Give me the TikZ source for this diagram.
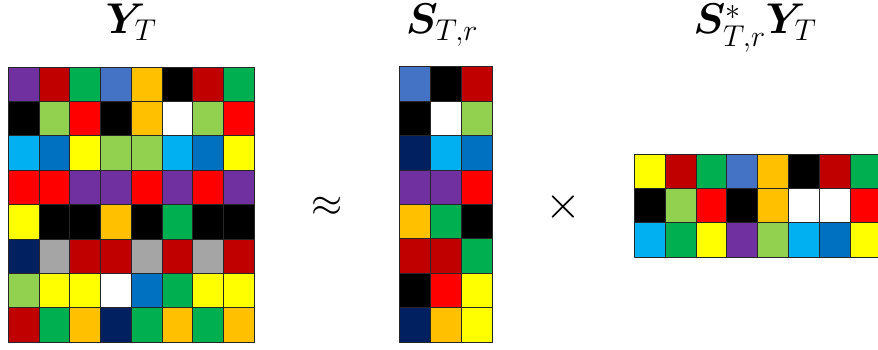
\RequirePackage{fix-cm}
\documentclass[tikz,border=0pt]{standalone}
\usepackage{amsmath,amssymb,bm}
\usepackage{xcolor}
\usepackage{tikz}
\usetikzlibrary{arrows.meta, positioning, calc}

% cell colours
\definecolor{P}{HTML}{7030A0}
\definecolor{DR}{HTML}{C00000}
\definecolor{G}{HTML}{00B050}
\definecolor{B}{HTML}{4472C4}
\definecolor{O}{HTML}{FFC000}
\definecolor{K}{HTML}{000000}
\definecolor{LG}{HTML}{92D050}
\definecolor{R}{HTML}{FF0000}
\definecolor{W}{HTML}{FFFFFF}
\definecolor{C}{HTML}{00B0F0}
\definecolor{BB}{HTML}{0070C0}
\definecolor{Y}{HTML}{FFFF00}
\definecolor{N}{HTML}{002060}
\definecolor{Gy}{HTML}{A5A5A5}

\tikzset{
  cell/.style={draw=black!85, line width=0.8pt},
  title/.style={anchor=base, inner sep=0pt, font=\fontsize{43}{48}\selectfont},
  op/.style={inner sep=0pt, font=\fontsize{40}{44}\selectfont}
}

\begin{document}
\begin{tikzpicture}[x=1pt, y=-1pt, line join=round]
    \useasboundingbox (0,0) rectangle (878,350);
    \clip (0,0) rectangle (878,350);

    % Titles
    \node[title] (ttlY) at (131,34) {$\bm{Y}_T$};
    \node[title] (ttlS) at (442,34) {$\bm{S}_{T,r}$};
    \node[title] (ttlSY) at (755,34) {$\bm{S}^{\raisebox{-5pt}{$\scriptstyle *$}}_{T,r}\bm{Y}_T$};

    % Left matrix Y_T
    \foreach \row [count=\i from 0] in {%
        {P,DR,G,B,O,K,DR,G},%
        {K,LG,R,K,O,W,LG,R},%
        {C,BB,Y,LG,LG,C,BB,Y},%
        {R,R,P,P,R,P,R,P},%
        {Y,K,K,O,K,G,K,K},%
        {N,Gy,DR,DR,Gy,DR,Gy,DR},%
        {LG,Y,Y,W,BB,G,Y,Y},%
        {DR,G,O,N,G,O,G,O}%
    }{
        \foreach \c [count=\j from 0] in \row {
            \filldraw[cell, fill=\c] (8.3+30.75*\j,67+34.4*\i) rectangle ++(30.75,34.4);
        }
    }

    % Middle matrix S_{T,r}
    \foreach \row [count=\i from 0] in {%
        {B,K,DR},%
        {K,W,LG},%
        {N,C,BB},%
        {P,P,R},%
        {O,G,K},%
        {DR,DR,G},%
        {K,R,Y},%
        {N,O,Y}%
    }{
        \foreach \c [count=\j from 0] in \row {
            \filldraw[cell, fill=\c] (399+31.1*\j,66.7+34.4*\i) rectangle ++(31.1,34.4);
        }
    }

    % Right matrix S*_{T,r} Y_T
    \foreach \row [count=\i from 0] in {%
        {Y,DR,G,B,O,K,DR,G},%
        {K,LG,R,K,O,W,W,R},%
        {C,G,Y,P,LG,C,BB,Y}%
    }{
        \foreach \c [count=\j from 0] in \row {
            \filldraw[cell, fill=\c] (634.3+30.8*\j,154+34.3*\i) rectangle ++(30.8,34.3);
        }
    }

    % Operators
    \node[op] (approx) at (327,207) {$\approx$};
    \node[op, font=\fontsize{46}{50}\selectfont] (times) at (563,207) {$\times$};

\end{tikzpicture}
\end{document}
